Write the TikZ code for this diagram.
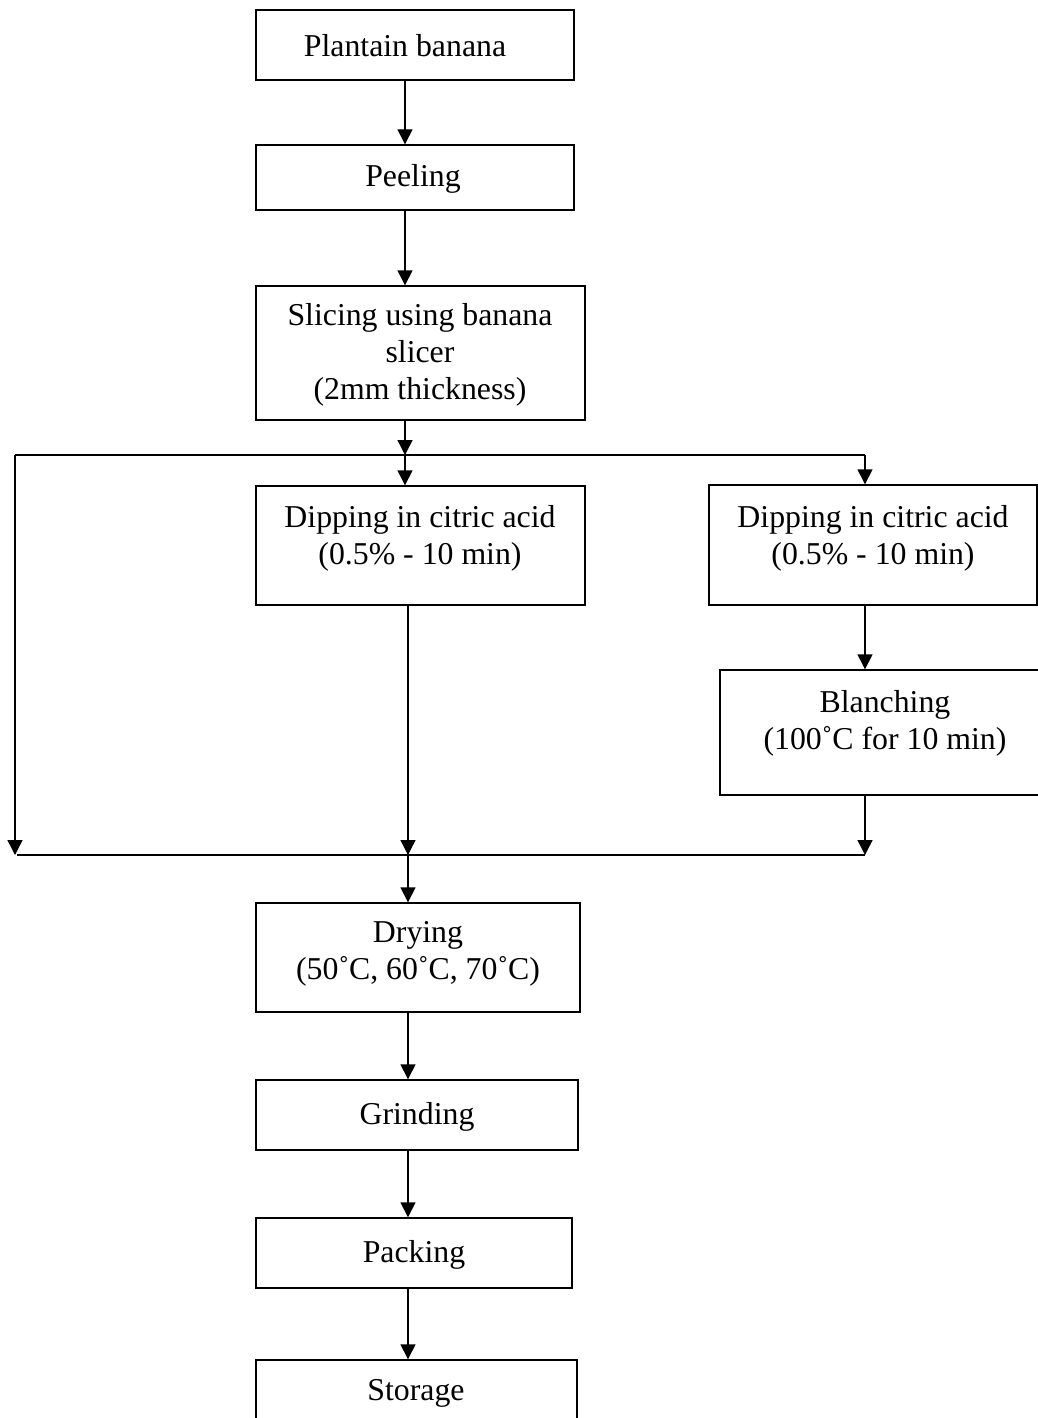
\documentclass[tikz,border=0pt]{standalone}
\usepackage{fontspec}
\setmainfont{Liberation Serif}
\usetikzlibrary{arrows.meta}
\begin{document}
\begin{tikzpicture}[x=1pt,y=-1pt,
  box/.style={draw,line width=1.4pt,inner sep=0pt,minimum width=#1},
  txt/.style={align=center,inner sep=0pt,font=\fontsize{31.8}{37}\selectfont},
  arr/.style={line width=1.4pt,-{Triangle[length=15pt,width=15pt]}},
  ln/.style={line width=1.4pt}]
\useasboundingbox (0,0) rectangle (1038,1418);
\clip (0,0) rectangle (1038,1418);
% boxes
\node[box=318pt,minimum height=70pt] (plant) at (415,45) {};
\node[box=318pt,minimum height=65pt] (peel) at (415,177.5) {};
\node[box=329pt,minimum height=134pt] (slice) at (420.5,353) {};
\node[box=329pt,minimum height=119pt] (dipa) at (420.5,545.5) {};
\node[box=328pt,minimum height=120pt] (dipb) at (873,545) {};
\node[box=330pt,minimum height=125pt] (blanch) at (885,732.5) {};
\node[box=324pt,minimum height=109pt] (dry) at (418,957.5) {};
\node[box=322pt,minimum height=70pt] (grind) at (417,1115) {};
\node[box=316pt,minimum height=70pt] (pack) at (414,1253) {};
\node[box=321pt,minimum height=80pt] (store) at (416.5,1400) {};
% texts
\node[txt] (tplant) at (405,46) {Plantain banana};
\node[txt] (tpeel) at (413,179) {Peeling};
\node[txt] (tslice) at (420,355) {Slicing using banana\\slicer\\(2mm thickness)};
\node[txt] (tdipa) at (420,538) {Dipping in citric acid\\(0.5\% - 10 min)};
\node[txt] (tdipb) at (873,538) {Dipping in citric acid\\(0.5\% - 10 min)};
\node[txt] (tblanch) at (885,723) {Blanching\\(100˚C for 10 min)};
\node[txt] (tdry) at (418,954) {Drying\\(50˚C, 60˚C, 70˚C)};
\node[txt] (tgrind) at (417,1117) {Grinding};
\node[txt] (tpack) at (414,1255) {Packing};
\node[txt] (tstore) at (416,1393) {Storage};
% guide coordinates
\coordinate (xa) at (405,0);
\coordinate (xb) at (408,0);
\coordinate (xr) at (865,0);
\coordinate (splitl) at (15,455);
\coordinate (splitm) at (405,455);
\coordinate (splitr) at (865,455);
\coordinate (joinl) at (15,855);
\coordinate (joinm) at (408,855);
\coordinate (joinr) at (865,855);
% connectors
\draw[arr] (plant.south -| xa) -- (peel.north -| xa);
\draw[arr] (peel.south -| xa) -- (slice.north -| xa);
\draw[arr] (slice.south -| xa) -- (splitm);
\draw[ln] (splitl) -- (splitr);
\draw[arr] (splitm) -- (dipa.north -| xa);
\draw[arr] (splitr) -- (dipb.north -| xr);
\draw[arr] (splitl) -- (joinl);
\draw[arr] (dipa.south -| xb) -- (joinm);
\draw[arr] (dipb.south -| xr) -- (blanch.north -| xr);
\draw[arr] (blanch.south -| xr) -- (joinr);
\draw[ln] ([xshift=2pt]joinl) -- (joinr);
\draw[arr] (joinm) -- (dry.north -| xb);
\draw[arr] (dry.south -| xb) -- (grind.north -| xb);
\draw[arr] (grind.south -| xb) -- (pack.north -| xb);
\draw[arr] (pack.south -| xb) -- (store.north -| xb);
\end{tikzpicture}
\end{document}
